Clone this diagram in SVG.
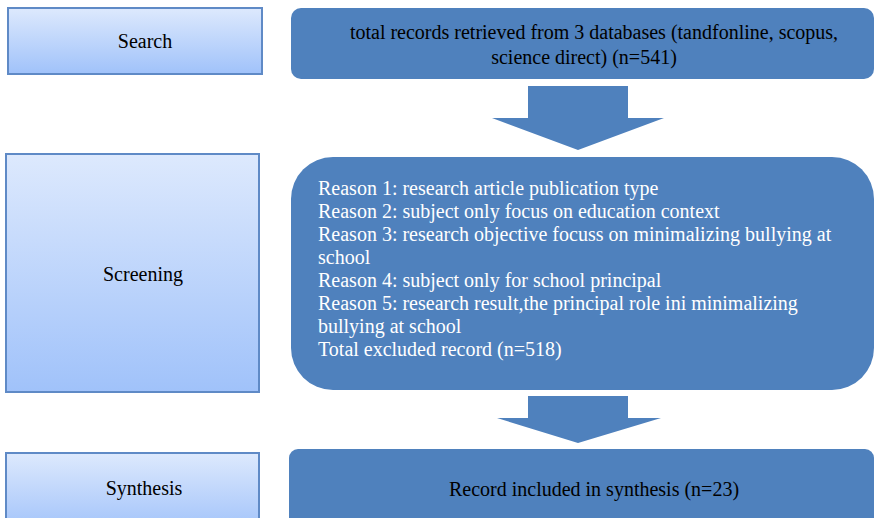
<svg xmlns="http://www.w3.org/2000/svg" width="874" height="518" viewBox="0 0 874 518">
<defs>
<linearGradient id="lg" x1="0" y1="0" x2="0" y2="1">
<stop offset="0" stop-color="#dde9fd"/>
<stop offset="1" stop-color="#a0c2fa"/>
</linearGradient>
<style>
.stage{fill:url(#lg);stroke:#5f8ac6;stroke-width:2}
.blue{fill:#4f81bd}
text{font-family:'Liberation Serif','Times New Roman',serif;font-size:20px}
.t{fill:#000}
.w{fill:#fff}
</style>
</defs>
<rect width="874" height="518" fill="#fff"/>
<g id="search">
<rect class="stage" x="8" y="8" width="254" height="66"/>
<text class="t" x="145" y="48" text-anchor="middle">Search</text>
</g>
<g id="screening">
<rect class="stage" x="6" y="154" width="253" height="238"/>
<text class="t" x="143" y="281" text-anchor="middle">Screening</text>
</g>
<g id="synthesis">
<rect class="stage" x="6" y="453" width="253" height="80"/>
<text class="t" x="144" y="495" text-anchor="middle">Synthesis</text>
</g>
<g id="records">
<rect class="blue" x="291" y="8" width="583" height="71" rx="10"/>
<text class="t" x="594" y="39" text-anchor="middle">total records retrieved from 3 databases (tandfonline, scopus,</text>
<text class="t" x="584" y="64" text-anchor="middle">science direct) (n=541)</text>
</g>
<g id="excluded">
<rect class="blue" x="291" y="157" width="583" height="233" rx="42"/>
<text class="w" x="318" y="195">Reason 1: research article publication type</text>
<text class="w" x="318" y="218">Reason 2: subject only focus on education context</text>
<text class="w" x="318" y="241">Reason 3: research objective focuss on minimalizing bullying at</text>
<text class="w" x="318" y="264">school</text>
<text class="w" x="318" y="287">Reason 4: subject only for school principal</text>
<text class="w" x="318" y="310">Reason 5: research result,the principal role ini minimalizing</text>
<text class="w" x="318" y="333">bullying at school</text>
<text class="w" x="318" y="356">Total excluded record (n=518)</text>
</g>
<g id="included">
<rect class="blue" x="289" y="449" width="585" height="80" rx="9"/>
<text class="t" x="594" y="496" text-anchor="middle">Record included in synthesis (n=23)</text>
</g>
<g id="connectors">
<path class="blue" d="M528,86 H628 V118 H664 L578,150 L492,118 H528 Z"/>
<path class="blue" d="M528,396 H628 V418 H661 L578,443 L497,418 H528 Z"/>
</g>
</svg>
